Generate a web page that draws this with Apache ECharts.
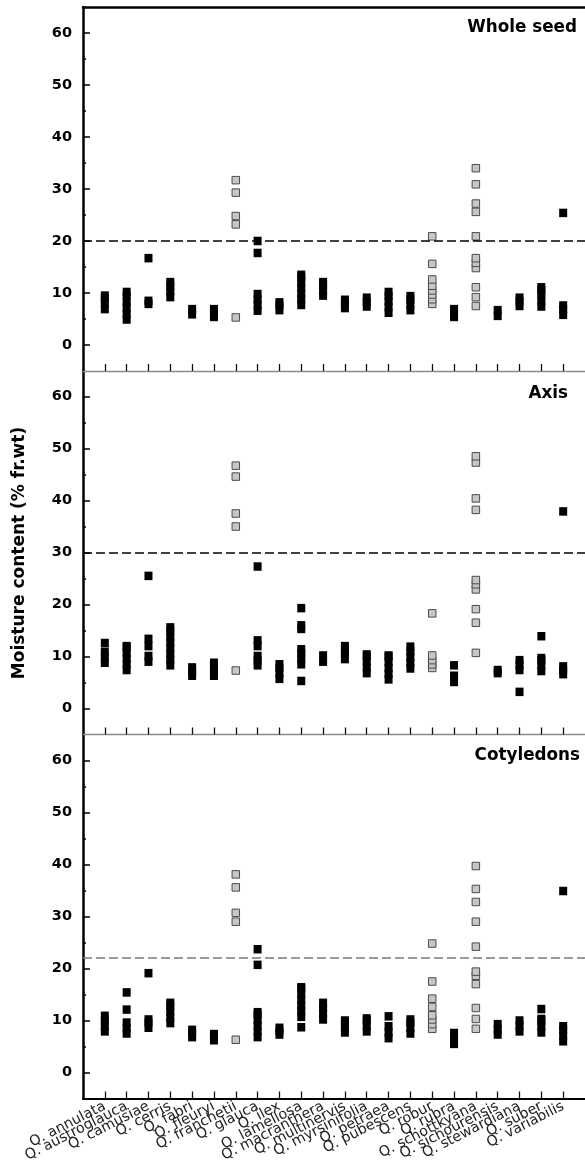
<!DOCTYPE html>
<html>
<head>
<meta charset="utf-8">
<script src="https://cdn.jsdelivr.net/npm/echarts@6/dist/echarts.min.js"></script>
<style>html,body{margin:0;padding:0;background:#fff}#c{width:585px;height:1173px}</style>
</head>
<body>
<div id="c"></div>
<script>
const species = ['Q. annulata','Q. austroglauca','Q. camusiae','Q. cerris','Q. fabri','Q. fleuryi','Q. franchetii','Q. glauca','Q. ilex','Q. lamellosa','Q. macranthera','Q. multinervis','Q. myrsinifolia','Q. petraea','Q. pubescens','Q. robur','Q. rubra','Q. schottkyana','Q. sichourensis','Q. stewardiana','Q. suber','Q. variabilis'];

const panelTitles = ['Whole seed', 'Axis', 'Cotyledons'];
const thresholds = [20, 30, 22];
const yTicks = [0, 10, 20, 30, 40, 50, 60];
const yMinorTicks = [5, 15, 25, 35, 45, 55];
const yTitle = 'Moisture content (% fr.wt)';

// Whole seed: dark symbols (species index aligned)
const wholeBlack = [
  [6.9, 8.0, 9.0, 9.5],
  [4.9, 6.0, 7.2, 8.3, 9.4, 10.2],
  [7.9, 8.5, 16.7],
  [9.2, 10.3, 11.3, 12.1],
  [5.9, 6.9],
  [5.4, 6.3, 6.9],
  [],
  [6.6, 7.7, 8.8, 9.8, 17.7, 20.0],
  [6.7, 7.6, 8.2],
  [7.7, 8.8, 9.9, 11.0, 12.1, 13.0, 13.5],
  [9.5, 10.6, 11.5, 12.1],
  [7.1, 8.0, 8.7],
  [7.4, 8.3, 9.1],
  [6.2, 7.3, 8.4, 9.4, 10.2],
  [6.7, 7.8, 8.8, 9.4],
  [],
  [5.4, 6.2, 6.9],
  [],
  [5.6, 6.7],
  [7.5, 8.4, 9.1],
  [7.4, 8.5, 9.6, 10.5, 11.1],
  [5.8, 6.8, 7.6, 25.4]
];
// Whole seed: grey symbols
const wholeGrey = [
  [],[],[],[],[],[],
  [5.3, 23.2, 24.8, 29.3, 31.7],
  [],[],[],[],[],[],[],[],
  [7.9, 8.8, 9.7, 10.5, 11.4, 12.6, 15.6, 20.9],
  [],
  [7.5, 9.2, 11.1, 14.8, 15.8, 16.7, 20.9, 25.6, 27.2, 30.9, 34.0],
  [],[],[],[]
];

// Axis: dark symbols
const axisBlack = [
  [8.8, 9.9, 10.9, 12.6],
  [7.4, 8.5, 9.6, 10.7, 11.8, 12.0],
  [9.0, 10.1, 12.0, 13.4, 25.5],
  [8.3, 9.4, 10.5, 11.6, 12.7, 13.8, 14.9, 15.6],
  [6.3, 7.1, 7.9],
  [6.3, 7.3, 8.2, 8.8],
  [],
  [8.3, 9.2, 10.1, 12.0, 13.1, 27.3],
  [5.7, 6.8, 7.8, 8.5],
  [5.3, 8.5, 9.6, 10.5, 11.4, 15.3, 16.0, 19.3],
  [9.0, 10.2],
  [9.5, 10.5, 11.4, 12.0],
  [6.8, 7.9, 9.0, 10.0, 10.4],
  [5.6, 6.7, 7.8, 8.9, 10.0, 10.2],
  [7.7, 8.8, 9.9, 11.0, 11.9],
  [],
  [5.1, 6.3, 8.3],
  [],
  [6.8, 7.4],
  [3.2, 7.4, 8.4, 9.3],
  [7.2, 8.3, 9.3, 9.7, 13.9],
  [6.6, 7.4, 8.1, 37.9]
];
// Axis: grey symbols
const axisGrey = [
  [],[],[],[],[],[],
  [7.3, 35.0, 37.5, 44.6, 46.7],
  [],[],[],[],[],[],[],[],
  [7.8, 8.5, 9.3, 10.2, 18.3],
  [],
  [10.7, 16.5, 19.1, 22.9, 23.9, 24.7, 38.2, 40.4, 47.3, 48.5],
  [],[],[],[]
];

// Cotyledons: dark symbols
const cotBlack = [
  [7.9, 9.0, 10.0, 10.9],
  [7.5, 8.5, 9.6, 12.1, 15.4],
  [8.6, 9.6, 10.2, 19.1],
  [9.5, 10.6, 11.7, 12.8, 13.4],
  [6.8, 7.6, 8.2],
  [6.2, 7.0, 7.4],
  [],
  [6.8, 7.9, 9.0, 10.1, 11.1, 11.6, 20.7, 23.7],
  [7.3, 8.0, 8.6],
  [8.7, 10.7, 11.8, 12.9, 14.0, 15.1, 16.2, 16.4],
  [10.2, 11.3, 12.4, 13.4],
  [7.7, 8.8, 9.6, 10.0],
  [7.9, 9.0, 10.0, 10.4],
  [6.6, 7.7, 8.9, 10.8],
  [7.5, 8.6, 9.6, 10.2],
  [],
  [5.5, 6.5, 7.6],
  [],
  [7.3, 8.3, 9.3],
  [7.9, 9.0, 10.0],
  [7.7, 8.8, 9.9, 10.3, 12.2],
  [6.0, 7.1, 8.2, 8.9, 34.9]
];
// Cotyledons: grey symbols
const cotGrey = [
  [],[],[],[],[],[],
  [6.3, 29.0, 30.7, 35.6, 38.1],
  [],[],[],[],[],[],[],[],
  [8.4, 9.3, 10.2, 11.0, 12.6, 14.2, 17.5, 24.8],
  [],
  [8.4, 10.3, 12.4, 17.0, 18.6, 19.4, 24.2, 29.0, 32.8, 35.3, 39.7],
  [],[],[],[]
];

const blackSets = [wholeBlack, axisBlack, cotBlack];
const greySets = [wholeGrey, axisGrey, cotGrey];

function toPoints(sets) {
  const out = [];
  sets.forEach(function (vals, i) { vals.forEach(function (v) { out.push([i, v]); }); });
  return out;
}

const catIdx = species.map(function (s, i) { return i; });
const evenIdx = catIdx.filter(function (i) { return i % 2 === 0; });
const oddIdx = catIdx.filter(function (i) { return i % 2 === 1; });
const gridTops = [7, 370.5, 734.5];
const GRID_H = 364;

const grids = gridTops.map(function (t) { return { left: 83, top: t, width: 507, height: GRID_H }; });

const labelStyle = {
  rotate: 27, margin: 7, showMinLabel: true, showMaxLabel: true, hideOverlap: false,
  formatter: function (v) { return species[Math.round(v)] || ''; },
  fontFamily: 'DejaVu Sans', fontSize: 14.3, color: '#222'
};

const xAxes = [];
const yAxes = [];
const series = [];
for (let i = 0; i < 3; i++) {
  const last = i === 2;
  xAxes.push({
    gridIndex: i, type: 'value', min: -1, max: 22, interval: 1, position: 'bottom',
    axisLine: { show: true, onZero: false, lineStyle: { color: last ? '#000' : '#8a8a8a', width: last ? 2.2 : 1.3 } },
    axisTick: { show: true, inside: true, length: 7, customValues: catIdx, lineStyle: { color: '#111', width: 1.3 } },
    axisLabel: Object.assign({ show: last, customValues: evenIdx }, labelStyle),
    splitLine: { show: false }
  });
}
xAxes.push({
  gridIndex: 0, type: 'value', min: -1, max: 22, interval: 1, position: 'top',
  axisLine: { show: true, onZero: false, lineStyle: { color: '#000', width: 2.5 } },
  axisTick: { show: false }, axisLabel: { show: false }, splitLine: { show: false }
});
xAxes.push({
  gridIndex: 2, type: 'value', min: -1, max: 22, interval: 1, position: 'bottom',
  axisLine: { show: false, onZero: false },
  axisTick: { show: false },
  axisLabel: Object.assign({ show: true, customValues: oddIdx }, labelStyle),
  splitLine: { show: false }
});
for (let i = 0; i < 3; i++) {
  yAxes.push({
    gridIndex: i, type: 'value', min: -5, max: 65, position: 'left',
    axisLine: { show: true, onZero: false, lineStyle: { color: '#000', width: 2.5 } },
    axisTick: { show: true, inside: true, length: 7, customValues: yTicks, lineStyle: { color: '#000', width: 1.5 } },
    axisLabel: { customValues: yTicks, margin: 11, showMinLabel: true, showMaxLabel: true, fontFamily: 'DejaVu Sans', fontWeight: 'bold', fontSize: 14.5, color: '#000' },
    splitLine: { show: false }
  });
}
for (let i = 0; i < 3; i++) {
  yAxes.push({
    gridIndex: i, type: 'value', min: -5, max: 65, position: 'left',
    axisLine: { show: false, onZero: false },
    axisTick: { show: true, inside: true, length: 3, customValues: yMinorTicks, lineStyle: { color: '#000', width: 1.5 } },
    axisLabel: { show: false },
    splitLine: { show: false }
  });
}
for (let i = 0; i < 3; i++) {
  series.push({
    type: 'scatter', xAxisIndex: i, yAxisIndex: i, symbol: 'rect', symbolSize: [8, 8.5],
    itemStyle: { color: '#000', opacity: 1 }, data: toPoints(blackSets[i]), silent: true,
    markLine: {
      silent: true, symbol: 'none', label: { show: false },
      lineStyle: { type: [9, 4], color: i === 2 ? '#7a7a7a' : '#000', width: 1.5 },
      data: [{ yAxis: thresholds[i] }]
    }
  });
  series.push({
    type: 'scatter', xAxisIndex: i, yAxisIndex: i, symbol: 'rect', symbolSize: [7.5, 7.5],
    itemStyle: { color: '#c6c6c6', borderColor: '#4a4a4a', borderWidth: 1, opacity: 1 },
    data: toPoints(greySets[i]), silent: true, z: 3
  });
}

const titleRight = [577, 568, 580];
const titleY = [28, 394, 756];
const graphics = panelTitles.map(function (t, i) {
  return { type: 'text', x: titleRight[i], y: titleY[i], silent: true,
    style: { text: t, textAlign: 'right', textVerticalAlign: 'middle', font: 'bold 16.8px "DejaVu Sans"', fill: '#000' } };
});
graphics.push({ type: 'text', x: 20, y: 553, rotation: Math.PI / 2, silent: true,
  style: { text: yTitle, textAlign: 'center', textVerticalAlign: 'middle', font: 'bold 17px "DejaVu Sans"', fill: '#000' } });

const chart = echarts.init(document.getElementById('c'), null, { renderer: 'canvas' });
chart.setOption({
  animation: false,
  backgroundColor: '#fff',
  grid: grids,
  xAxis: xAxes,
  yAxis: yAxes,
  series: series,
  graphic: graphics
});
</script>
</body>
</html>
